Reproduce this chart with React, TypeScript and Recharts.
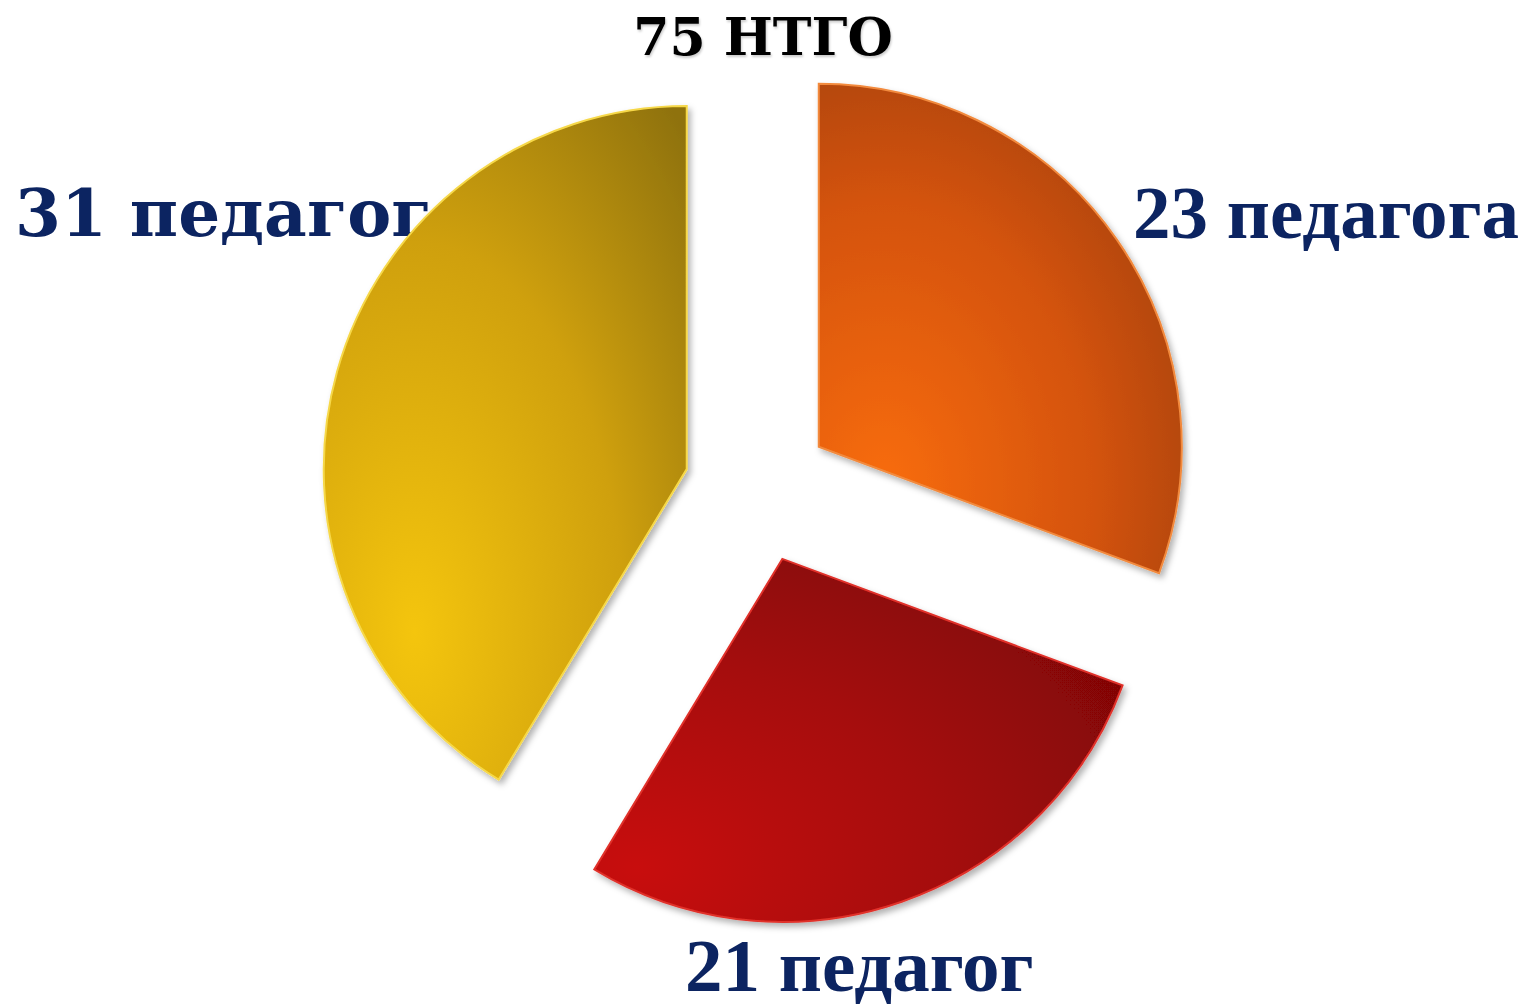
import { PieChart, Pie, Cell, Sector } from 'recharts';

// данные диаграммы
const title = '75 НТГО';
const categories = ['педагога', 'педагог', 'педагог'];
const counts = [23, 21, 31];

const W = 1526;
const H = 1005;
const CX = 758;
const CY = 489;
const R = 363;
const EXPLODE = 74;
const RAD = Math.PI / 180;

const sliceStyles = [
  { id: 'gOrange', fx: 0.18, fy: 0.82, light: '#f86c0a', mid: '#d45310', dark: '#9c3f0a', edge: '#f28a3e' },
  { id: 'gRed', fx: 0.08, fy: 0.85, light: '#c80f0f', mid: '#a50a0a', dark: '#820606', edge: '#e0302a' },
  { id: 'gYellow', fx: 0.25, fy: 0.78, light: '#f4c50c', mid: '#cfa00a', dark: '#8f7208', edge: '#f6d84a' },
];

const labelLayout = [
  { x: 1133, y: 238, font: '"Liberation Serif", serif', size: 75 },
  { x: 685, y: 991, font: '"Liberation Serif", serif', size: 75 },
  { x: 15, y: 236, font: '"DejaVu Serif", serif', size: 66 },
];

const data = counts.map((value, i) => ({ name: `${value} ${categories[i]}`, value }));

function ExplodedSector(props: any) {
  const { cx, cy, midAngle } = props;
  const dx = EXPLODE * Math.cos(-midAngle * RAD);
  const dy = EXPLODE * Math.sin(-midAngle * RAD);
  return (
    <g filter="url(#sliceShadow)">
      <Sector {...props} cx={cx + dx} cy={cy + dy} />
    </g>
  );
}

export default function App() {
  return (
    <div style={{ position: 'absolute', left: 0, top: 0, width: W, height: H, background: '#fff' }}>
      {/* подписи под секторами (жёлтый сектор перекрывает подпись) */}
      <svg width={W} height={H} style={{ position: 'absolute', left: 0, top: 0 }}>
        {data.map((d, i) => (
          <text
            key={d.name}
            x={labelLayout[i].x}
            y={labelLayout[i].y}
            fill="#0c2461"
            fontFamily={labelLayout[i].font}
            fontWeight="bold"
            fontSize={labelLayout[i].size}
          >
            {d.name}
          </text>
        ))}
      </svg>
      <div style={{ position: 'absolute', left: 0, top: 0 }}>
        <PieChart width={W} height={H} margin={{ top: 0, right: 0, bottom: 0, left: 0 }}>
          <defs>
            {sliceStyles.map((s) => (
              <radialGradient key={s.id} id={s.id} cx={s.fx} cy={s.fy} r={1.05}>
                <stop offset="0%" stopColor={s.light} />
                <stop offset="55%" stopColor={s.mid} />
                <stop offset="100%" stopColor={s.dark} />
              </radialGradient>
            ))}
            <filter id="sliceShadow" x="-10%" y="-10%" width="125%" height="125%">
              <feDropShadow dx="3" dy="4" stdDeviation="3" floodColor="#000" floodOpacity="0.3" />
            </filter>
          </defs>
          <Pie
            data={data}
            dataKey="value"
            nameKey="name"
            cx={CX}
            cy={CY}
            outerRadius={R}
            startAngle={90}
            endAngle={-270}
            shape={ExplodedSector}
            labelLine={false}
            isAnimationActive={false}
          >
            {data.map((d, i) => (
              <Cell key={d.name} fill={`url(#${sliceStyles[i].id})`} stroke={sliceStyles[i].edge} strokeWidth={2} />
            ))}
          </Pie>
        </PieChart>
      </div>
      <svg width={W} height={80} style={{ position: 'absolute', left: 0, top: 0, pointerEvents: 'none' }}>
        <text
          x={763}
          y={55}
          textAnchor="middle"
          fontFamily='"DejaVu Serif", serif'
          fontWeight="bold"
          fontSize={52}
          fill="#000"
          style={{ filter: 'drop-shadow(1px 2px 1px rgba(0,0,0,0.2))' }}
        >
          {title}
        </text>
      </svg>
    </div>
  );
}
